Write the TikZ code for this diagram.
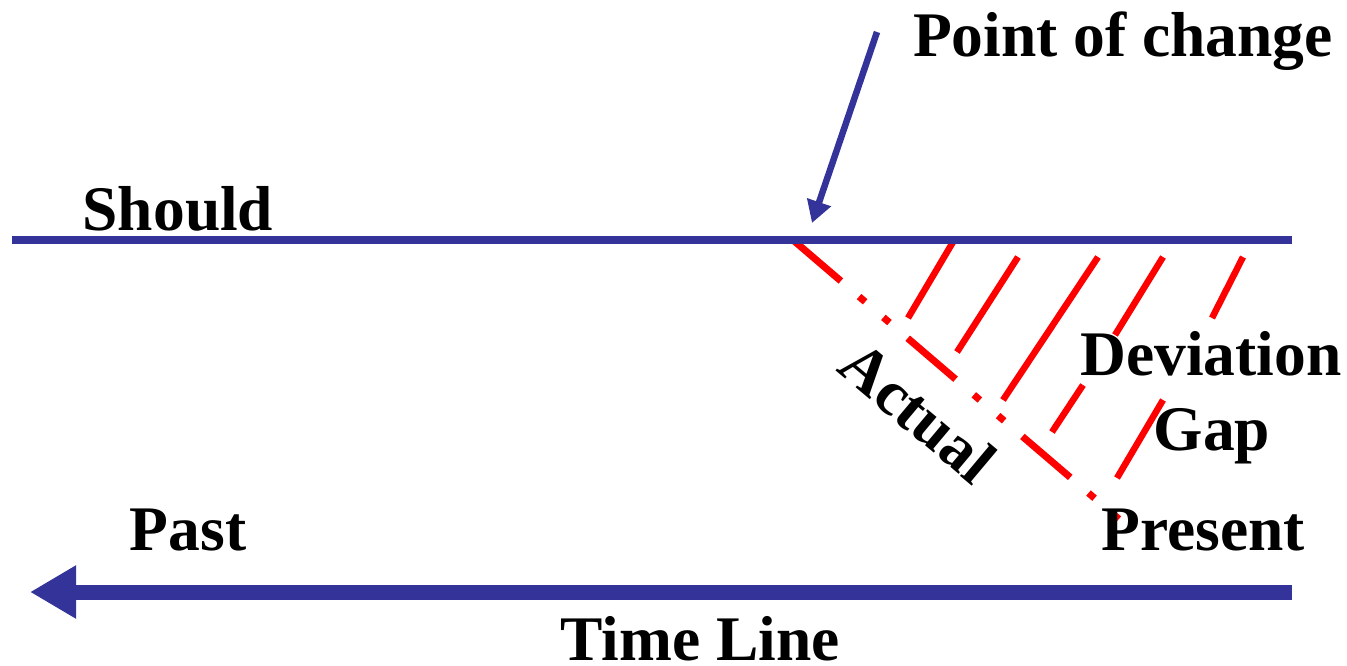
\documentclass[tikz,border=0pt]{standalone}
\usepackage{fontspec}
\setmainfont{Liberation Serif}
\usetikzlibrary{arrows.meta}
\definecolor{navy}{RGB}{51,51,153}
\definecolor{gapred}{RGB}{255,0,0}
\begin{document}
\begin{tikzpicture}[x=1pt,y=-1pt,
  lbl/.style={font=\fontsize{63.5}{70}\selectfont\bfseries, inner sep=0pt, anchor=base},
  hatch/.style={draw=gapred, line width=6.5pt},
  actualline/.style={draw=gapred, line width=7pt, line cap=butt,
    dash pattern=on 63pt off 24pt on 8pt off 24pt on 8pt off 24pt},
  bluethin/.style={draw=navy, line width=8pt},
]
\useasboundingbox (0,0) rectangle (1347,665);

% coordinates
\coordinate (sL) at (12,240);
\coordinate (sR) at (1292,240);
\coordinate (chg) at (793,240);
\coordinate (aEnd) at (1120,520);
\coordinate (pStart) at (877,32);
\coordinate (pTip) at (812,223);
\coordinate (tR) at (1292,592);
\coordinate (tL) at (30,592);

% actual (dash-dot)
\draw[actualline] (chg) -- (aEnd);

% hatch lines
\draw[hatch] (953,242) -- (908,318);
\draw[hatch] (1018,257) -- (957,352);
\draw[hatch] (1098,257) -- (1003,400);
\draw[hatch] (1163,257) -- (1115,335);
\draw[hatch] (1083,385) -- (1052,432);
\draw[hatch] (1243,257) -- (1212,318);
\draw[hatch] (1163,400) -- (1117,478);

% should line
\draw[bluethin] (sL) -- (sR);

% point of change arrow
\draw[draw=navy, line width=6.5pt, -{Triangle[length=22pt,width=24pt]}, navy] (pStart) -- (pTip);

% time line arrow
\draw[draw=navy, line width=15pt, -{Triangle[length=46pt,width=50pt]}, navy] (tR) -- (tL);

% labels
\node[lbl] (should) at (178,230) {Should};
\node[lbl] (poc) at (1123,56) {Point of change};
\node[lbl] (dev) at (1211,375) {Deviation};
\node[lbl] (gap) at (1212,450) {Gap};
\node[lbl] (present) at (1203,550) {Present};
\node[lbl] (past) at (188,550) {Past};
\node[lbl] (time) at (700,660) {Time Line};
\node[font=\fontsize{63.5}{70}\selectfont\bfseries, inner sep=0pt, rotate=-40] (actual) at (918,412) {Actual};
\end{tikzpicture}
\end{document}
